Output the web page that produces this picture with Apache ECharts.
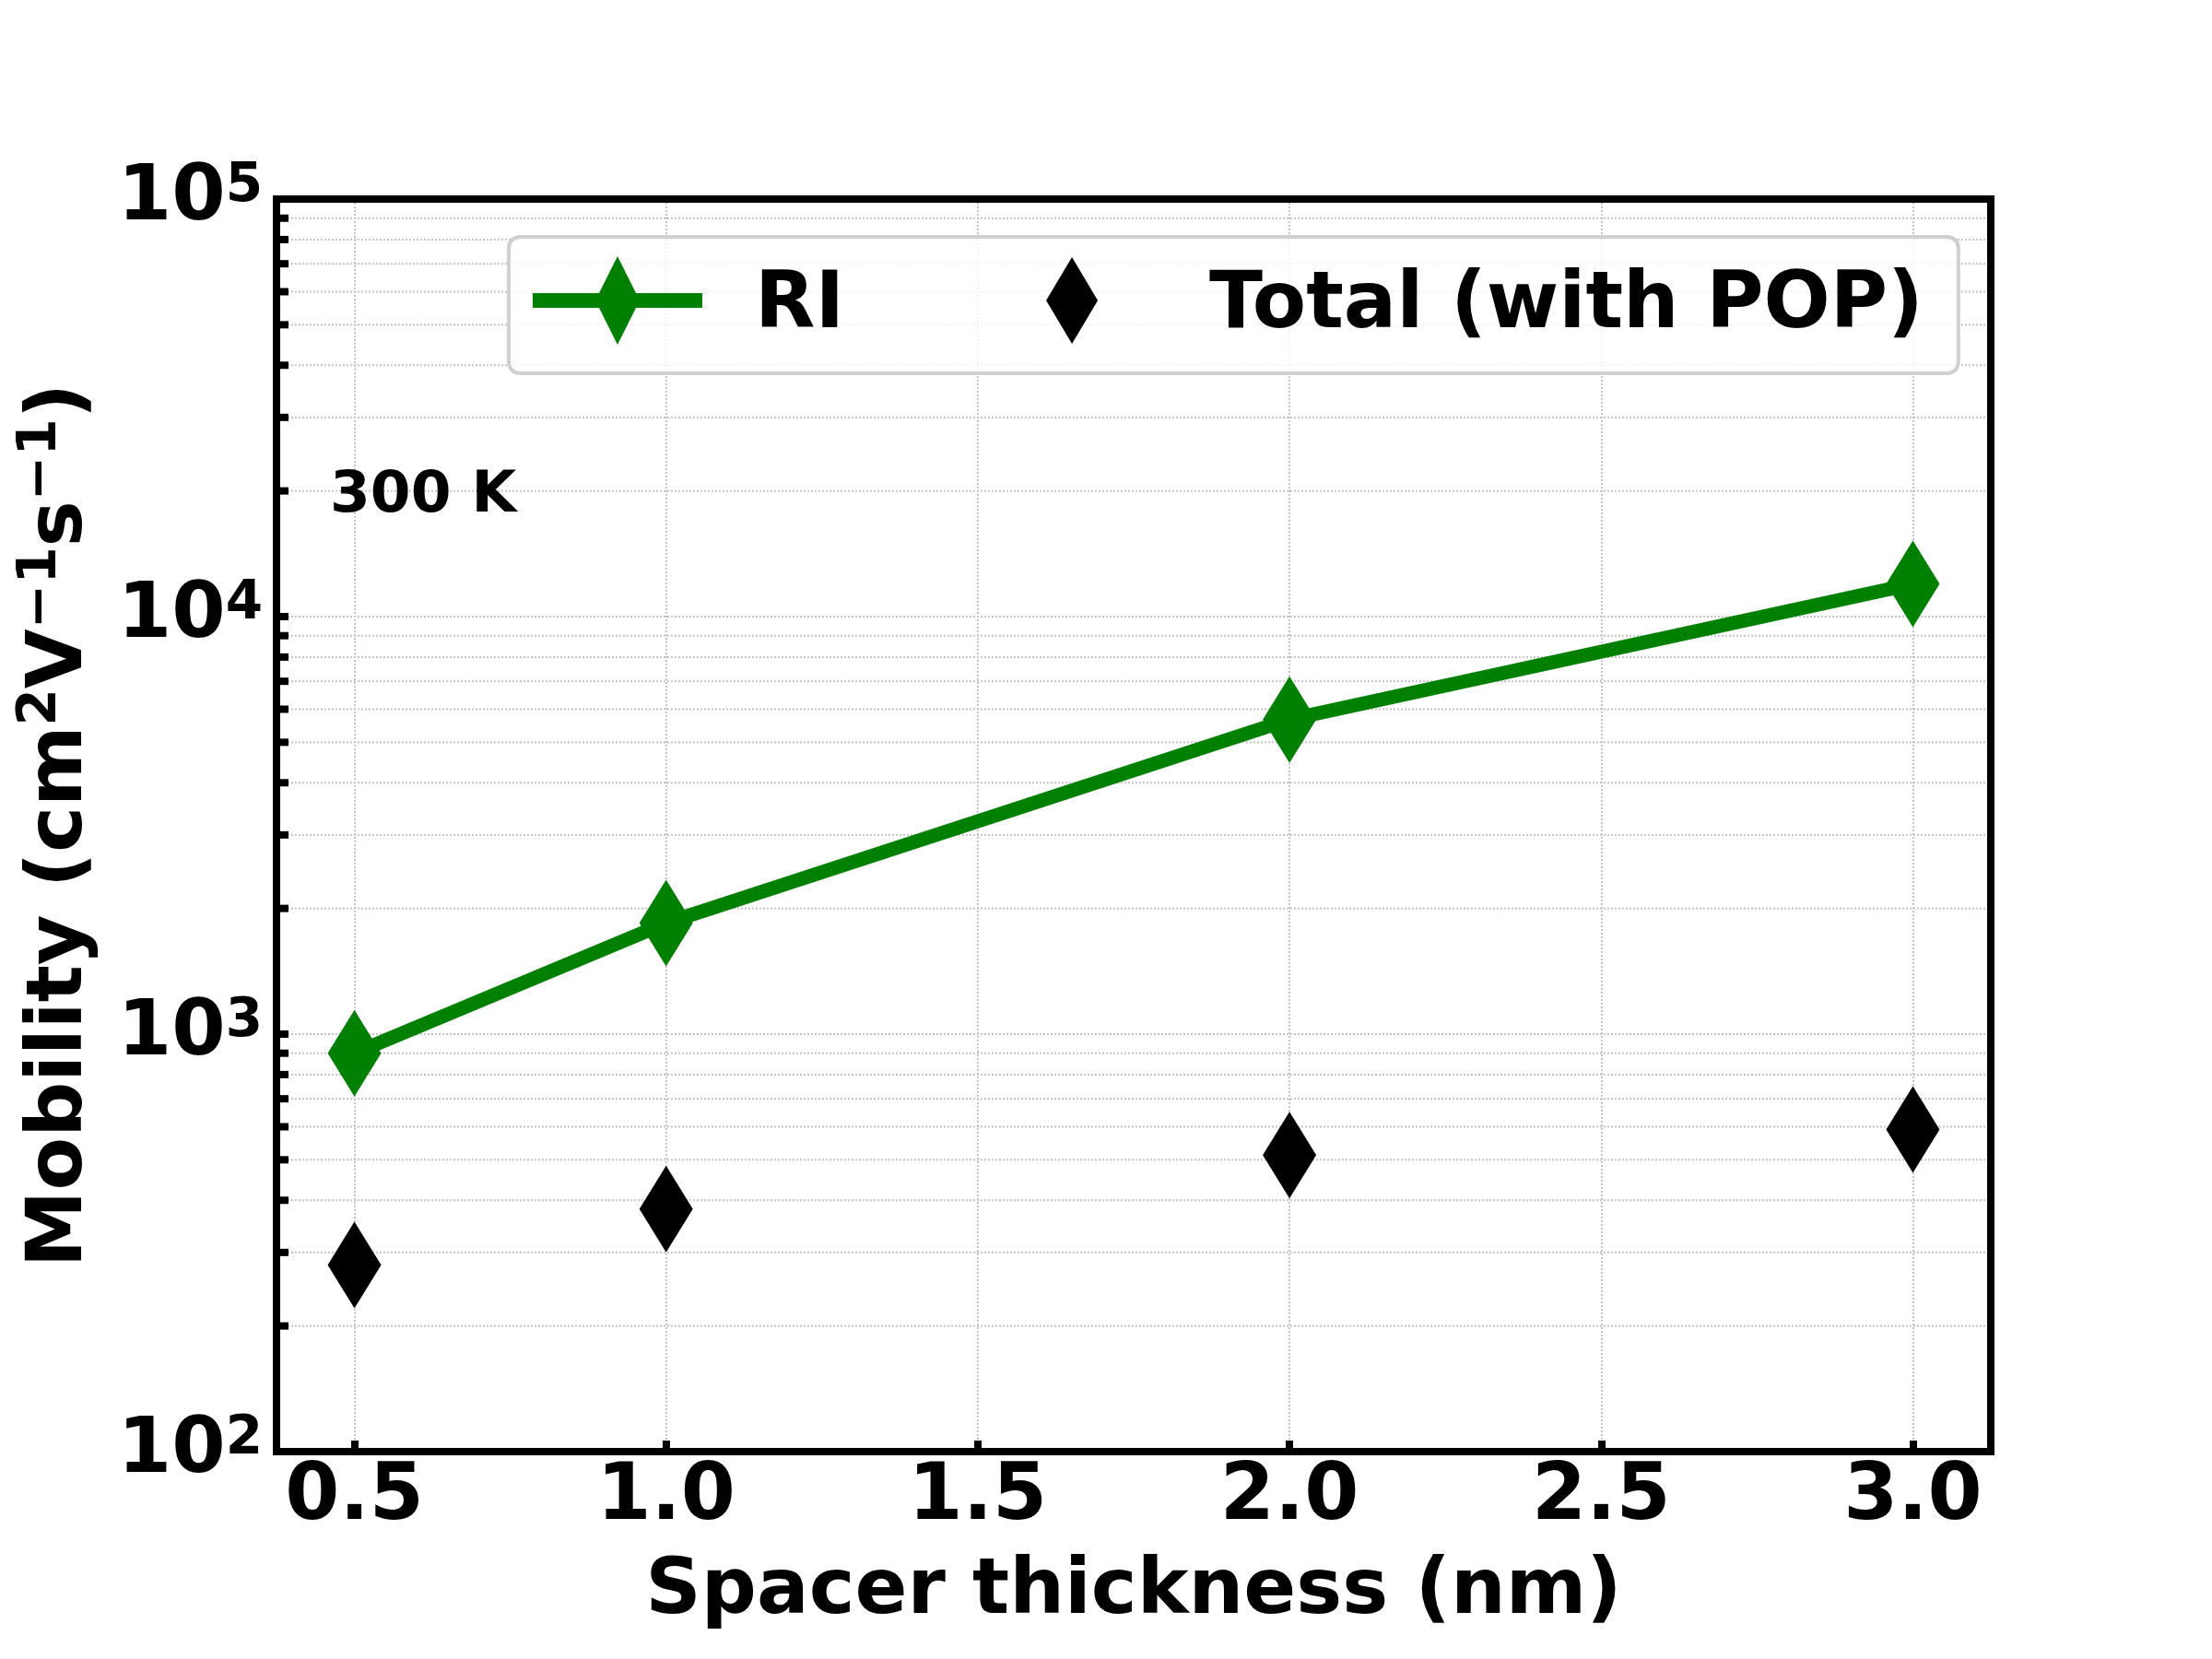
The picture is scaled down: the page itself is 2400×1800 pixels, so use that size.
<!DOCTYPE html>
<html lang="en">
<head>
  <meta charset="UTF-8">
  <title>Mobility vs spacer thickness</title>
  <script src="https://cdn.jsdelivr.net/npm/echarts@6/dist/echarts.min.js"></script>
  <style>
    body { margin: 0; background: #fff; }
    #chart { width: 2400px; height: 1800px; }
  </style>
</head>
<body>
  <div id="chart"></div>
  <script>
    var myChart = echarts.init(document.getElementById('chart'));

    // values
    const thickness = [0.5, 1.0, 2.0, 3.0];
    const riMobility = [900, 1845, 5670, 11970];
    const totalMobility = [280, 381, 513, 591];

    // log-axis minor ticks (2..9 of each decade)
    const yMinorTicks = [200, 300, 400, 500, 600, 700, 800, 900,
                         2000, 3000, 4000, 5000, 6000, 7000, 8000, 9000,
                         20000, 30000, 40000, 50000, 60000, 70000, 80000, 90000];

    const X_MIN = 0.375, X_MAX = 3.125;
    const Y_MIN = 100, Y_MAX = 100000;

    const FONT = 'DejaVu Sans';
    const GREEN = '#008000';
    const GRID_GRAY = '#c4c4c4';

    const supRich = {
      b: { fontFamily: FONT, fontWeight: 'bold', fontSize: 84, lineHeight: 84, color: '#000', verticalAlign: 'middle' },
      s: { fontFamily: FONT, fontWeight: 'bold', fontSize: 58, lineHeight: 58, color: '#000', verticalAlign: 'top', padding: [0, 0, 40, 0] }
    };

    var option = {
      animation: false,
      backgroundColor: '#fff',
      grid: {
        left: 300, right: 240, top: 216, bottom: 225,
        show: true, borderColor: '#000', borderWidth: 8, z: 10,
        outerBoundsMode: 'none'
      },
      legend: {
        left: 552, top: 257,
        orient: 'horizontal',
        // icons sit a little above the text centre, as in the original
        itemWidth: 236, itemHeight: 110, itemGap: 155,
        padding: [21, 38, 17, 26],
        backgroundColor: 'rgba(255,255,255,0.8)',
        borderColor: '#d0d0d0', borderWidth: 4, borderRadius: 12,
        selectedMode: false,
        textStyle: { fontFamily: FONT, fontWeight: 'bold', fontSize: 85, color: '#000' },
        data: [
          {
            name: 'RI',
            icon: 'path://M0,40L184,40L184,56L0,56Z M92,0L116,48L92,96L68,48Z M236,110L236,110',
            itemStyle: { color: GREEN, borderWidth: 0 }
          },
          {
            name: 'Total (with POP)',
            icon: 'path://M92,1L120,48L92,95L64,48Z M0,0L0,0 M236,110L236,110',
            itemStyle: { color: '#000', borderWidth: 0 }
          }
        ]
      },
      graphic: [{
        type: 'text', x: 358, y: 539, z: 20,
        style: { text: '300 K', font: 'bold 63px "DejaVu Sans"', fill: '#000', align: 'left', verticalAlign: 'middle' }
      }],
      xAxis: {
        type: 'value', min: X_MIN, max: X_MAX, minInterval: 0.5, maxInterval: 0.5,
        axisLine: { show: false },
        axisTick: { inside: true, length: 12, lineStyle: { color: '#000', width: 8 } },
        axisLabel: {
          margin: 8, fontFamily: FONT, fontWeight: 'bold', fontSize: 85, color: '#000',
          showMinLabel: false, showMaxLabel: false,
          formatter: function (v) {
            return Math.abs(v * 2 - Math.round(v * 2)) < 1e-9 ? v.toFixed(1) : '';
          }
        },
        splitLine: { show: true, showMinLine: false, showMaxLine: false, lineStyle: { color: GRID_GRAY, width: 2, type: 'dotted' } },
        name: 'Spacer thickness (nm)', nameLocation: 'middle', nameGap: 111,
        nameTextStyle: { fontFamily: FONT, fontWeight: 'bold', fontSize: 84, color: '#000' }
      },
      yAxis: {
        type: 'log', logBase: 10, min: Y_MIN, max: Y_MAX,
        axisLine: { show: false },
        axisTick: { inside: true, length: 13, lineStyle: { color: '#000', width: 8 } },
        axisLabel: {
          margin: 15, showMinLabel: true, showMaxLabel: true,
          formatter: function (v) {
            return '{b|10}{s|' + Math.round(Math.log10(v)) + '}';
          },
          rich: supRich
        },
        splitLine: { show: true, showMinLine: false, showMaxLine: false, lineStyle: { color: GRID_GRAY, width: 2, type: 'dotted' } },
        name: '{t|Mobility (cm}{s|2}{t|V}{s|\u22121}{t|s}{s|\u22121}{t|)}',
        nameLocation: 'middle', nameGap: 184,
        nameTextStyle: {
          rich: {
            t: { fontFamily: FONT, fontWeight: 'bold', fontSize: 84, lineHeight: 100, color: '#000', verticalAlign: 'middle' },
            s: { fontFamily: FONT, fontWeight: 'bold', fontSize: 58, lineHeight: 58, color: '#000', verticalAlign: 'top' }
          }
        }
      },
      series: [
        {
          // minor grid lines and minor ticks on the log axis
          type: 'custom', name: 'minor', z: 1, silent: true,
          data: yMinorTicks.map(v => [X_MIN, v]),
          encode: { x: 0, y: 1 },
          renderItem: function (params, api) {
            const cs = params.coordSys;
            const y = api.coord([api.value(0), api.value(1)])[1];
            return {
              type: 'group',
              children: [
                { type: 'line', shape: { x1: cs.x + 4, y1: y, x2: cs.x + cs.width - 4, y2: y },
                  style: { stroke: GRID_GRAY, lineWidth: 2, lineDash: [2, 2] } },
                { type: 'line', shape: { x1: cs.x, y1: y, x2: cs.x + 13, y2: y },
                  style: { stroke: '#000', lineWidth: 8 } }
              ]
            };
          }
        },
        {
          name: 'RI', type: 'line', z: 3,
          data: thickness.map((x, i) => [x, riMobility[i]]),
          symbol: 'diamond', symbolSize: [58, 94],
          lineStyle: { color: GREEN, width: 15 },
          itemStyle: { color: GREEN, borderWidth: 0 }
        },
        {
          name: 'Total (with POP)', type: 'scatter', z: 3,
          data: thickness.map((x, i) => [x, totalMobility[i]]),
          symbol: 'diamond', symbolSize: [58, 94],
          itemStyle: { color: '#000', opacity: 1 }
        }
      ]
    };

    myChart.setOption(option);
  </script>
</body>
</html>
